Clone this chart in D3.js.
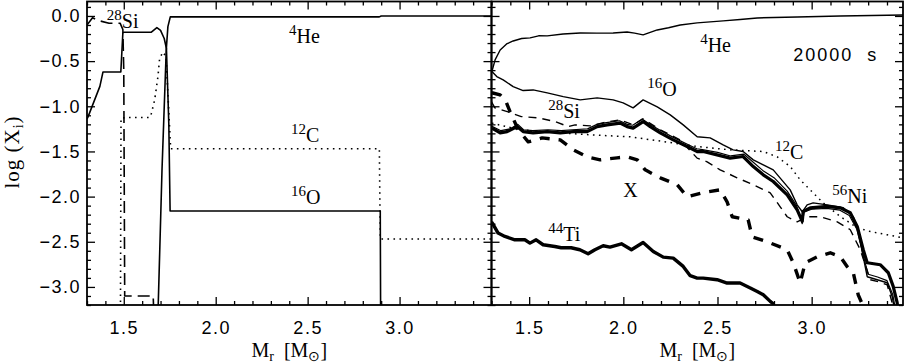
<!DOCTYPE html>
<html>
<head>
<meta charset="utf-8">
<script src="https://cdn.jsdelivr.net/npm/d3@7"></script>
<style>
  body { margin: 0; background: #fff; }
  .tick text { font-family: "Liberation Sans", sans-serif; font-size: 18px; letter-spacing: 1.5px; fill: #000; }
  .tick line { stroke: #000; stroke-width: 1.3; }
  .lbl { font-family: "Liberation Serif", serif; font-size: 20px; fill: #000; }
</style>
</head>
<body>
<div id="chart"></div>
<script>
const width = 906, height = 363;

// tick values
const xMajor = [1.5, 2.0, 2.5, 3.0];
const yMajor = [0, -0.5, -1.0, -1.5, -2.0, -2.5, -3.0];

// left panel (initial composition)
const leftHe = [[1.686,-3.3],[1.708,-1.70],[1.731,-0.376],[1.740,-0.118],[1.753,-0.01],[2.89,-0.01],[2.90,0.0],[3.5,0.0]];
const leftO = [[1.30,-1.14],[1.305,-1.12],[1.37,-0.78],[1.387,-0.62],[1.484,-0.62],[1.495,-0.19],[1.50,-0.18],[1.65,-0.18],[1.68,-0.13],[1.70,-0.16],[1.72,-0.25],[1.732,-0.36],[1.745,-1.2],[1.752,-2.16],[2.895,-2.16],[2.897,-3.3]];
const leftC = [[1.482,-3.3],[1.485,-1.13],[1.515,-1.125],[1.641,-1.125],[1.650,-1.08],[1.668,-0.93],[1.686,-0.67],[1.695,-0.47],[1.713,-0.40],[1.73,-0.45],[1.755,-1.47],[2.89,-1.47],[2.895,-2.47],[3.5,-2.47]];
const leftSi = [[1.30,-0.10],[1.33,-0.02],[1.36,-0.05],[1.42,-0.08],[1.48,-0.08],[1.495,-0.15],[1.50,-0.6],[1.505,-3.1],[1.66,-3.1],[1.665,-3.4]];

// right panel (20000 s)
const rightHe = [[1.302,-0.616],[1.319,-0.487],[1.346,-0.377],[1.38,-0.31],[1.415,-0.277],[1.46,-0.25],[1.505,-0.243],[1.55,-0.22],[1.596,-0.221],[1.68,-0.20],[1.771,-0.188],[1.86,-0.19],[1.946,-0.188],[2.020,-0.177],[2.06,-0.19],[2.105,-0.210],[2.180,-0.155],[2.24,-0.13],[2.302,-0.100],[2.392,-0.077],[2.530,-0.055],[2.62,-0.04],[2.711,-0.022],[2.923,-0.011],[3.152,0.0],[3.486,0.011]];
const rightO = [[1.302,-0.616],[1.328,-0.671],[1.362,-0.708],[1.415,-0.782],[1.468,-0.826],[1.521,-0.819],[1.596,-0.852],[1.681,-0.893],[1.771,-0.929],[1.861,-0.907],[1.946,-0.929],[1.999,-0.962],[2.052,-1.018],[2.105,-0.929],[2.180,-1.007],[2.249,-1.095],[2.318,-1.206],[2.392,-1.338],[2.461,-1.350],[2.530,-1.427],[2.583,-1.482],[2.636,-1.501],[2.690,-1.593],[2.743,-1.648],[2.796,-1.704],[2.886,-1.925],[2.923,-2.091],[2.950,-2.168],[2.976,-2.091],[3.008,-2.069],[3.083,-2.091],[3.168,-2.124],[3.221,-2.223],[3.247,-2.367],[3.274,-2.666],[3.295,-2.887],[3.348,-2.920],[3.401,-2.954],[3.428,-3.108],[3.444,-3.3]];
const rightSi = [[1.30,-0.95],[1.318,-1.018],[1.388,-1.062],[1.458,-1.114],[1.548,-1.128],[1.638,-1.169],[1.707,-1.225],[1.744,-1.206],[1.824,-1.217],[1.914,-1.173],[1.983,-1.150],[2.052,-1.206],[2.105,-1.139],[2.196,-1.261],[2.302,-1.372],[2.392,-1.574],[2.445,-1.615],[2.514,-1.704],[2.604,-1.792],[2.690,-1.869],[2.780,-1.958],[2.833,-2.113],[2.870,-2.223],[2.923,-2.279],[2.976,-2.223],[3.045,-2.223],[3.136,-2.279],[3.205,-2.367],[3.258,-2.588],[3.311,-2.920],[3.353,-2.942],[3.401,-2.976],[3.444,-3.3]];
const rightNi = [[1.302,-1.242],[1.346,-1.294],[1.383,-1.280],[1.436,-1.225],[1.468,-1.280],[1.521,-1.294],[1.596,-1.280],[1.665,-1.294],[1.734,-1.280],[1.808,-1.280],[1.861,-1.225],[1.914,-1.206],[1.983,-1.187],[2.020,-1.225],[2.052,-1.242],[2.105,-1.169],[2.143,-1.225],[2.196,-1.294],[2.265,-1.372],[2.339,-1.446],[2.392,-1.501],[2.424,-1.501],[2.498,-1.538],[2.567,-1.574],[2.636,-1.556],[2.690,-1.667],[2.743,-1.759],[2.796,-1.833],[2.870,-1.980],[2.923,-2.146],[2.950,-2.275],[2.955,-2.165],[2.992,-2.124],[3.083,-2.109],[3.152,-2.124],[3.205,-2.179],[3.242,-2.331],[3.274,-2.588],[3.295,-2.732],[3.364,-2.754],[3.407,-2.843],[3.433,-2.994],[3.454,-3.175],[3.46,-3.3]];
const rightThin = [[1.30,-1.22],[1.35,-1.27],[1.40,-1.25],[1.44,-1.20],[1.47,-1.26],[1.52,-1.27],[1.60,-1.26],[1.67,-1.27],[1.73,-1.26],[1.81,-1.25],[1.86,-1.20],[1.91,-1.18],[1.98,-1.16],[2.02,-1.20],[2.05,-1.21],[2.10,-1.14],[2.14,-1.20],[2.20,-1.27],[2.27,-1.35],[2.34,-1.42],[2.39,-1.47],[2.42,-1.48],[2.50,-1.51],[2.57,-1.55],[2.64,-1.53],[2.69,-1.62],[2.74,-1.71],[2.80,-1.79],[2.87,-1.94],[2.92,-2.10],[2.95,-2.30],[2.96,-2.17],[3.00,-2.14],[3.08,-2.13],[3.15,-2.15],[3.20,-2.21],[3.24,-2.36],[3.27,-2.62],[3.30,-2.86],[3.35,-2.89],[3.40,-2.93],[3.43,-3.08],[3.45,-3.3]];
const rightC = [[1.302,-1.187],[1.452,-1.261],[1.665,-1.294],[1.824,-1.316],[2.036,-1.338],[2.212,-1.390],[2.392,-1.446],[2.567,-1.482],[2.743,-1.501],[2.817,-1.560],[2.886,-1.667],[2.939,-1.814],[2.992,-1.925],[3.061,-2.069],[3.152,-2.220],[3.242,-2.345],[3.311,-2.386],[3.401,-2.423],[3.486,-2.456]];
const rightX = [[1.302,-0.85],[1.346,-0.874],[1.373,-0.929],[1.399,-1.062],[1.442,-1.261],[1.495,-1.394],[1.569,-1.350],[1.665,-1.372],[1.734,-1.482],[1.808,-1.560],[1.877,-1.593],[1.967,-1.571],[2.020,-1.560],[2.074,-1.593],[2.116,-1.704],[2.196,-1.792],[2.286,-1.869],[2.339,-2.002],[2.418,-1.958],[2.514,-1.925],[2.551,-2.058],[2.578,-2.223],[2.663,-2.257],[2.684,-2.445],[2.764,-2.500],[2.870,-2.588],[2.902,-2.732],[2.939,-2.954],[2.966,-2.732],[3.029,-2.666],[3.099,-2.622],[3.152,-2.666],[3.189,-2.776],[3.221,-2.843],[3.247,-3.086],[3.268,-3.186],[3.279,-3.3]];
const rightTi = [[1.300,-2.28],[1.310,-2.312],[1.335,-2.404],[1.371,-2.441],[1.424,-2.478],[1.477,-2.478],[1.504,-2.515],[1.537,-2.478],[1.574,-2.533],[1.636,-2.552],[1.670,-2.566],[1.723,-2.566],[1.769,-2.588],[1.813,-2.633],[1.849,-2.588],[1.893,-2.544],[1.929,-2.559],[1.990,-2.522],[2.043,-2.588],[2.105,-2.508],[2.159,-2.607],[2.212,-2.670],[2.265,-2.681],[2.318,-2.773],[2.355,-2.876],[2.392,-2.902],[2.424,-2.902],[2.498,-2.920],[2.551,-2.957],[2.620,-2.957],[2.674,-3.012],[2.711,-3.050],[2.743,-3.086],[2.780,-3.160],[2.796,-3.186],[2.81,-3.3]];

const svg = d3.select("#chart").append("svg")
  .attr("width", width).attr("height", height)
  .style("font-family", "Liberation Serif, serif");

const yS = d3.scaleLinear().domain([-3.2, 0.16]).range([305, 1.5]);

const panels = [
  {
    id: "L", showY: true,
    x: d3.scaleLinear().domain([1.3, 3.5]).range([87, 491.5]),
    series: [
      { data: leftC, w: 1.6, dash: "1.6,4.4" },
      { data: leftSi, w: 1.6, dash: "12,6" },
      { data: leftO, w: 1.6 },
      { data: leftHe, w: 1.6 }
    ],
    labels: [
      { x: 1.408, y: -0.133, sup: "28", txt: "Si" },
      { x: 2.399, y: -0.295, sup: "4", txt: "He" },
      { x: 2.41, y: -1.39, sup: "12", txt: "C" },
      { x: 2.41, y: -2.08, sup: "16", txt: "O" }
    ]
  },
  {
    id: "R", showY: false,
    x: d3.scaleLinear().domain([1.3, 3.485]).range([491.5, 903]),
    series: [
      { data: rightC, w: 1.5, dash: "1.6,4.4" },
      { data: rightHe, w: 1.4 },
      { data: rightO, w: 1.4 },
      { data: rightSi, w: 1.4, dash: "8,6" },
      { data: rightThin, w: 1.2 },
      { data: rightNi, w: 3.2 },
      { data: rightX, w: 3.4, dash: "10,9" },
      { data: rightTi, w: 3.4 }
    ],
    labels: [
      { x: 2.408, y: -0.395, sup: "4", txt: "He" },
      { x: 2.127, y: -0.885, sup: "16", txt: "O" },
      { x: 1.601, y: -1.132, sup: "28", txt: "Si" },
      { x: 2.806, y: -1.585, sup: "12", txt: "C" },
      { x: 1.999, y: -1.999, sup: "", txt: "X" },
      { x: 3.109, y: -2.072, sup: "56", txt: "Ni" },
      { x: 1.601, y: -2.489, sup: "44", txt: "Ti" }
    ]
  }
];

const fmt = d3.format(".1f");
const xMinor = d3.range(13, 35).map(d => d / 10).filter(d => !xMajor.includes(d));
const yMinor = d3.range(-32, 2).map(d => d / 10).filter(d => !yMajor.includes(d));

panels.forEach(p => {
  const x = p.x;
  const [x0, x1] = x.range();
  const g = svg.append("g");

  g.append("clipPath").attr("id", "clip" + p.id)
    .append("rect")
    .attr("x", x0).attr("y", yS.range()[1])
    .attr("width", x1 - x0).attr("height", yS.range()[0] - yS.range()[1]);

  const line = d3.line().x(d => x(d[0])).y(d => yS(d[1]));

  g.append("g").attr("clip-path", `url(#clip${p.id})`)
    .selectAll("path")
    .data(p.series)
    .enter().append("path")
    .attr("d", d => line(d.data))
    .attr("fill", "none")
    .attr("stroke", "#000")
    .attr("stroke-width", d => d.w)
    .attr("stroke-dasharray", d => d.dash || null)
    .attr("stroke-linejoin", "round");

  // axes, ticks pointing inward on all four sides
  const axes = [
    { ax: d3.axisBottom(x), t: `translate(0,${yS.range()[0]})`, maj: xMajor, min: xMinor, lab: true, pad: 16 },
    { ax: d3.axisTop(x), t: `translate(0,${yS.range()[1]})`, maj: xMajor, min: xMinor, lab: false, pad: 3 },
    { ax: d3.axisLeft(yS), t: `translate(${x0},0)`, maj: yMajor, min: yMinor, lab: p.showY, pad: 6 },
    { ax: d3.axisRight(yS), t: `translate(${x1},0)`, maj: yMajor, min: yMinor, lab: false, pad: 3 }
  ];
  axes.forEach(a => {
    g.append("g").attr("transform", a.t)
      .call(a.ax.tickValues(a.maj).tickSize(-8).tickPadding(a.pad).tickFormat(a.lab ? fmt : ""))
      .call(s => s.select(".domain").remove());
    g.append("g").attr("transform", a.t)
      .call(a.ax.tickValues(a.min).tickSize(-4).tickFormat(""))
      .call(s => s.select(".domain").remove());
  });

  g.append("rect")
    .attr("x", x0).attr("y", yS.range()[1])
    .attr("width", x1 - x0).attr("height", yS.range()[0] - yS.range()[1])
    .attr("fill", "none").attr("stroke", "#000").attr("stroke-width", 1.8);

  const lab = g.selectAll(".lbl").data(p.labels).enter().append("text")
    .attr("class", "lbl")
    .attr("x", d => x(d.x)).attr("y", d => yS(d.y));
  lab.append("tspan").attr("font-size", 15).attr("dy", -8).text(d => d.sup);
  lab.append("tspan").attr("dy", d => d.sup ? 8 : 0).text(d => d.txt);

  // x axis title
  const tt = g.append("text").attr("class", "lbl")
    .attr("x", (x0 + x1) / 2).attr("y", 357).attr("text-anchor", "middle");
  tt.append("tspan").text("M");
  tt.append("tspan").attr("font-size", 14).attr("dy", 4).text("r");
  tt.append("tspan").attr("dy", -4).text("\u00a0\u00a0[M");
  tt.append("tspan").attr("font-size", 14).attr("dy", 4).text("⊙");
  tt.append("tspan").attr("dy", -4).text("]");
});

// time stamp
svg.append("text")
  .attr("x", panels[1].x(2.902)).attr("y", yS(-0.494))
  .style("font-family", "Liberation Sans, sans-serif")
  .style("font-size", "18px").style("letter-spacing", "2px")
  .text("20000\u00a0\u00a0s");

// y axis title
const yt = svg.append("text").attr("class", "lbl")
  .attr("transform", "translate(19,152) rotate(-90)")
  .attr("text-anchor", "middle")
  .style("font-size", "21px").style("letter-spacing", "1px");
yt.append("tspan").text("log (X");
yt.append("tspan").attr("font-size", 14).attr("dy", 4).text("i");
yt.append("tspan").attr("dy", -4).text(")");
</script>
</body>
</html>
